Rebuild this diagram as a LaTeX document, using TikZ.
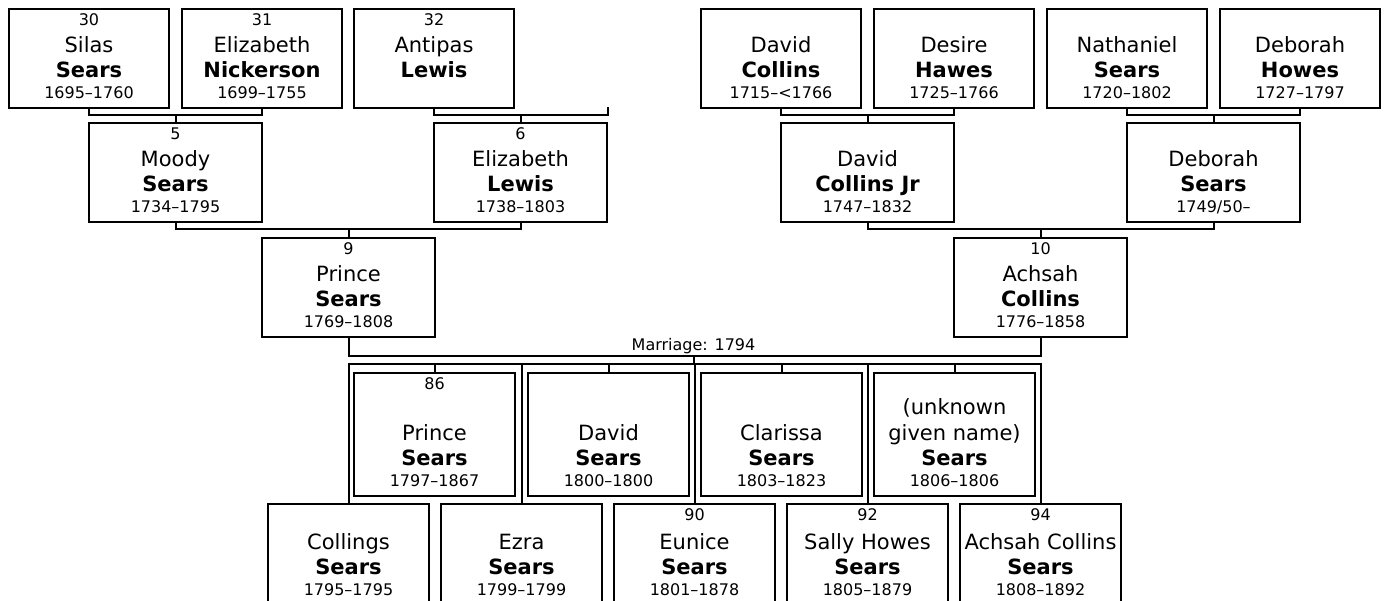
\documentclass[tikz,border=0pt]{standalone}
\usepackage{fontspec}
\setmainfont{DejaVu Sans}
\newcommand{\namesize}{\fontsize{21}{25.3}\selectfont}
\newcommand{\datesize}{\fontsize{16}{19}\selectfont}

\begin{document}
\begin{tikzpicture}[x=1pt, y=-1pt, line width=2pt,
    box/.style={draw, anchor=north west, inner sep=0pt, align=center,
        text depth=9.3pt, font=\namesize},
    elderbox/.style={box, minimum width=160pt, text height=89.7pt},
    parentbox/.style={box, minimum width=173pt, text height=89.7pt},
    childbox/.style={box, minimum width=161pt, text height=113.7pt},
    lowbox/.style={box, minimum width=161pt, text height=91.7pt},
    num/.style={anchor=base, inner sep=0pt, font=\datesize}]
    \useasboundingbox (0,0) rectangle (1386,600);
    \fill[white] (0,0) rectangle (1386,600);
    \clip (0,0) rectangle (1386,600);

    % great-grandparents
    \node[elderbox] (silas) at (8,8) {Silas\\\textbf{Sears}\\[-4pt]{\datesize 1695–1760}};
    \node[elderbox] (elizN) at (181,8) {Elizabeth\\\textbf{Nickerson}\\[-4pt]{\datesize 1699–1755}};
    \node[elderbox] (antipas) at (353,8) {Antipas\\\textbf{Lewis}\\[-4pt]\mbox{}};
    \node[elderbox] (davidC) at (700,8) {David\\\textbf{Collins}\\[-4pt]{\datesize 1715–<1766}};
    \node[elderbox] (desire) at (873,8) {Desire\\\textbf{Hawes}\\[-4pt]{\datesize 1725–1766}};
    \node[elderbox] (nathaniel) at (1046,8) {Nathaniel\\\textbf{Sears}\\[-4pt]{\datesize 1720–1802}};
    \node[elderbox] (deborahH) at (1219,8) {Deborah\\\textbf{Howes}\\[-4pt]{\datesize 1727–1797}};
    \node[num] at ([yshift=-17pt]silas.north) {30};
    \node[num] at ([yshift=-17pt]elizN.north) {31};
    \node[num] at ([yshift=-17pt]antipas.north) {32};

    % grandparents
    \node[parentbox] (moody) at (88,122) {Moody\\\textbf{Sears}\\[-4pt]{\datesize 1734–1795}};
    \node[parentbox] (elizL) at (433,122) {Elizabeth\\\textbf{Lewis}\\[-4pt]{\datesize 1738–1803}};
    \node[parentbox] (davidJr) at (780,122) {David\\\textbf{Collins Jr}\\[-4pt]{\datesize 1747–1832}};
    \node[parentbox] (deborahS) at (1126,122) {Deborah\\\textbf{Sears}\\[-4pt]{\datesize 1749/50–}};
    \node[num] at ([yshift=-17pt]moody.north) {5};
    \node[num] at ([yshift=-17pt]elizL.north) {6};

    % parents
    \node[parentbox] (prince) at (261,237) {Prince\\\textbf{Sears}\\[-4pt]{\datesize 1769–1808}};
    \node[parentbox] (achsah) at (953,237) {Achsah\\\textbf{Collins}\\[-4pt]{\datesize 1776–1858}};
    \node[num] at ([yshift=-17pt]prince.north) {9};
    \node[num] at ([yshift=-17pt]achsah.north) {10};

    % children
    \node[childbox] (princeJr) at (353,372) {Prince\\\textbf{Sears}\\[-4pt]{\datesize 1797–1867}};
    \node[childbox] (davidS) at (527,372) {David\\\textbf{Sears}\\[-4pt]{\datesize 1800–1800}};
    \node[childbox] (clarissa) at (700,372) {Clarissa\\\textbf{Sears}\\[-4pt]{\datesize 1803–1823}};
    \node[childbox] (unknownS) at (873,372) {(unknown\\given name)\\\textbf{Sears}\\[-4pt]{\datesize 1806–1806}};
    \node[num] at ([yshift=-17pt]princeJr.north) {86};
    \node[lowbox] (collings) at (267,503) {Collings\\\textbf{Sears}\\[-4pt]{\datesize 1795–1795}};
    \node[lowbox] (ezra) at (440,503) {Ezra\\\textbf{Sears}\\[-4pt]{\datesize 1799–1799}};
    \node[lowbox] (eunice) at (613,503) {Eunice\\\textbf{Sears}\\[-4pt]{\datesize 1801–1878}};
    \node[lowbox] (sally) at (786,503) {Sally Howes\\\textbf{Sears}\\[-4pt]{\datesize 1805–1879}};
    \node[lowbox] (achsahS) at (959,503) {Achsah Collins\\\textbf{Sears}\\[-4pt]{\datesize 1808–1892}};
    \node[num] at ([yshift=-17pt]eunice.north) {90};
    \node[num] at ([yshift=-17pt]sally.north) {92};
    \node[num] at ([yshift=-17pt]achsahS.north) {94};

    % lines
    \draw (silas.south) |- ([yshift=7.5pt]moody.north) -| (elizN.south);
    \draw (moody.north) -- ++(0,-7.5);
    \draw (antipas.south) |- ([yshift=7.5pt]elizL.north) -| ([yshift=15pt]elizL.north east);
    \draw (elizL.north) -- ++(0,-7.5);
    \draw (davidC.south) |- ([yshift=7.5pt]davidJr.north) -| (desire.south);
    \draw (davidJr.north) -- ++(0,-7.5);
    \draw (nathaniel.south) |- ([yshift=7.5pt]deborahS.north) -| (deborahH.south);
    \draw (deborahS.north) -- ++(0,-7.5);
    \draw (moody.south) |- ([yshift=8pt]prince.north) -| (elizL.south);
    \draw (prince.north) -- ++(0,-8);
    \draw (davidJr.south) |- ([yshift=8pt]achsah.north) -| (deborahS.south);
    \draw (achsah.north) -- ++(0,-8);

    \coordinate (marr) at (693.5,356);
    \coordinate (sib) at (693.5,364);
    \draw (prince.south) |- (marr) -| (achsah.south);
    \node[num] (mlabel) at ([yshift=6pt]marr) {Marriage: 1794};
    \draw (marr) -- (sib);
    \draw (collings.north) |- (sib) -| (achsahS.north);
    \draw (ezra.north) -- (ezra.north |- sib);
    \draw (eunice.north) -- (eunice.north |- sib);
    \draw (sally.north) -- (sally.north |- sib);
    \draw (princeJr.north) -- (princeJr.north |- sib);
    \draw (davidS.north) -- (davidS.north |- sib);
    \draw (clarissa.north) -- (clarissa.north |- sib);
    \draw (unknownS.north) -- (unknownS.north |- sib);
\end{tikzpicture}
\end{document}
